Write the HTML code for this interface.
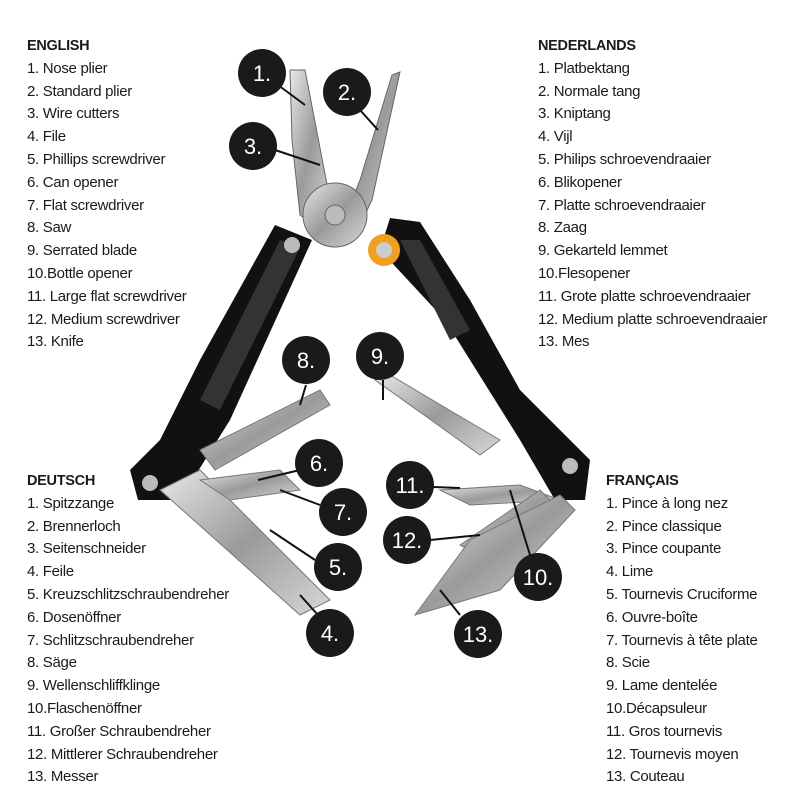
<!DOCTYPE html>
<html><head><meta charset="utf-8"><style>
body{margin:0;width:800px;height:800px;background:#fff;position:relative;overflow:hidden;font-family:"Liberation Sans",sans-serif;color:#1a1a1a}
.l{position:absolute;font-size:15px;line-height:22.8px;white-space:nowrap;letter-spacing:-0.3px}
.l b{font-size:14.5px;display:block}
svg{position:absolute;left:0;top:0}
</style></head><body>
<svg width="800" height="800" viewBox="0 0 800 800">
<defs>
<linearGradient id="m" x1="0" y1="0" x2="1" y2="1"><stop offset="0" stop-color="#e8e8e8"/><stop offset=".5" stop-color="#9a9a9a"/><stop offset="1" stop-color="#d8d8d8"/></linearGradient>
</defs>
<!-- pliers -->
<polygon points="290,70 305,70 330,200 320,230 300,215 292,140" fill="url(#m)" stroke="#666"/>
<polygon points="400,72 392,75 360,180 340,230 355,235 372,200" fill="url(#m)" stroke="#666"/>
<circle cx="335" cy="215" r="32" fill="url(#m)" stroke="#666"/>
<circle cx="335" cy="215" r="10" fill="#bbb" stroke="#666"/>
<!-- left handle -->
<polygon points="275,225 312,240 230,420 180,500 138,500 130,470 160,440 200,360" fill="#111"/>
<polygon points="280,240 300,248 220,410 200,400" fill="#333"/>
<circle cx="292" cy="245" r="8" fill="#bbb"/>
<circle cx="150" cy="483" r="8" fill="#bbb"/>
<!-- right handle -->
<polygon points="390,218 420,222 470,300 520,390 590,460 585,500 555,500 520,440 445,320 380,250" fill="#111"/>
<polygon points="400,240 420,240 470,330 450,340" fill="#333"/>
<circle cx="384" cy="250" r="16" fill="#f0a020"/><circle cx="384" cy="250" r="8" fill="#ccc"/>
<circle cx="570" cy="466" r="8" fill="#bbb"/>
<!-- blades -->
<polygon points="200,450 320,390 330,405 215,470" fill="url(#m)" stroke="#777"/>
<polygon points="375,380 390,375 500,440 480,455" fill="url(#m)" stroke="#777"/>
<polygon points="160,490 200,470 330,600 300,615" fill="url(#m)" stroke="#777"/>
<polygon points="200,480 280,470 300,490 230,500" fill="url(#m)" stroke="#777"/>
<polygon points="440,490 520,485 560,500 470,505" fill="url(#m)" stroke="#777"/>
<polygon points="460,545 540,490 555,505 490,560" fill="url(#m)" stroke="#777"/>
<polygon points="415,615 470,540 560,495 575,510 500,590" fill="url(#m)" stroke="#777"/>
<!-- leader lines -->
<g stroke="#111" stroke-width="2">
<line x1="278" y1="85" x2="305" y2="105"/><line x1="360" y1="110" x2="378" y2="130"/>
<line x1="275" y1="150" x2="320" y2="165"/><line x1="306" y1="385" x2="300" y2="405"/>
<line x1="383" y1="380" x2="383" y2="400"/><line x1="300" y1="470" x2="258" y2="480"/>
<line x1="320" y1="505" x2="280" y2="490"/><line x1="315" y1="560" x2="270" y2="530"/>
<line x1="318" y1="615" x2="300" y2="595"/><line x1="433" y1="487" x2="460" y2="488"/>
<line x1="430" y1="540" x2="480" y2="535"/><line x1="530" y1="555" x2="510" y2="490"/>
<line x1="460" y1="615" x2="440" y2="590"/>
</g>
<g fill="#1a1a1a">
<circle cx="262" cy="73" r="24"/><circle cx="347" cy="92" r="24"/><circle cx="253" cy="146" r="24"/>
<circle cx="306" cy="360" r="24"/><circle cx="380" cy="356" r="24"/><circle cx="319" cy="463" r="24"/>
<circle cx="343" cy="512" r="24"/><circle cx="338" cy="567" r="24"/><circle cx="330" cy="633" r="24"/>
<circle cx="410" cy="485" r="24"/><circle cx="407" cy="540" r="24"/><circle cx="538" cy="577" r="24"/>
<circle cx="478" cy="634" r="24"/>
</g>
<g fill="#fff" font-family="Liberation Sans" font-size="22" text-anchor="middle">
<text x="262" y="81">1.</text><text x="347" y="100">2.</text><text x="253" y="154">3.</text>
<text x="306" y="368">8.</text><text x="380" y="364">9.</text><text x="319" y="471">6.</text>
<text x="343" y="520">7.</text><text x="338" y="575">5.</text><text x="330" y="641">4.</text>
<text x="410" y="493">11.</text><text x="407" y="548">12.</text><text x="538" y="585">10.</text>
<text x="478" y="642">13.</text>
</g>
</svg>
<div class="l" style="left:27px;top:35px"><b>ENGLISH</b>1. Nose plier<br>2. Standard plier<br>3. Wire cutters<br>4. File<br>5. Phillips screwdriver<br>6. Can opener<br>7. Flat screwdriver<br>8. Saw<br>9. Serrated blade<br>10.Bottle opener<br>11. Large flat screwdriver<br>12. Medium screwdriver<br>13. Knife</div>
<div class="l" style="left:538px;top:35px"><b>NEDERLANDS</b>1. Platbektang<br>2. Normale tang<br>3. Kniptang<br>4. Vijl<br>5. Philips schroevendraaier<br>6. Blikopener<br>7. Platte schroevendraaier<br>8. Zaag<br>9. Gekarteld lemmet<br>10.Flesopener<br>11. Grote platte schroevendraaier<br>12. Medium platte schroevendraaier<br>13. Mes</div>
<div class="l" style="left:27px;top:470px"><b>DEUTSCH</b>1. Spitzzange<br>2. Brennerloch<br>3. Seitenschneider<br>4. Feile<br>5. Kreuzschlitzschraubendreher<br>6. Dosenöffner<br>7. Schlitzschraubendreher<br>8. Säge<br>9. Wellenschliffklinge<br>10.Flaschenöffner<br>11. Großer Schraubendreher<br>12. Mittlerer Schraubendreher<br>13. Messer</div>
<div class="l" style="left:606px;top:470px"><b>FRANÇAIS</b>1. Pince à long nez<br>2. Pince classique<br>3. Pince coupante<br>4. Lime<br>5. Tournevis Cruciforme<br>6. Ouvre-boîte<br>7. Tournevis à tête plate<br>8. Scie<br>9. Lame dentelée<br>10.Décapsuleur<br>11. Gros tournevis<br>12. Tournevis moyen<br>13. Couteau</div>
</body></html>
